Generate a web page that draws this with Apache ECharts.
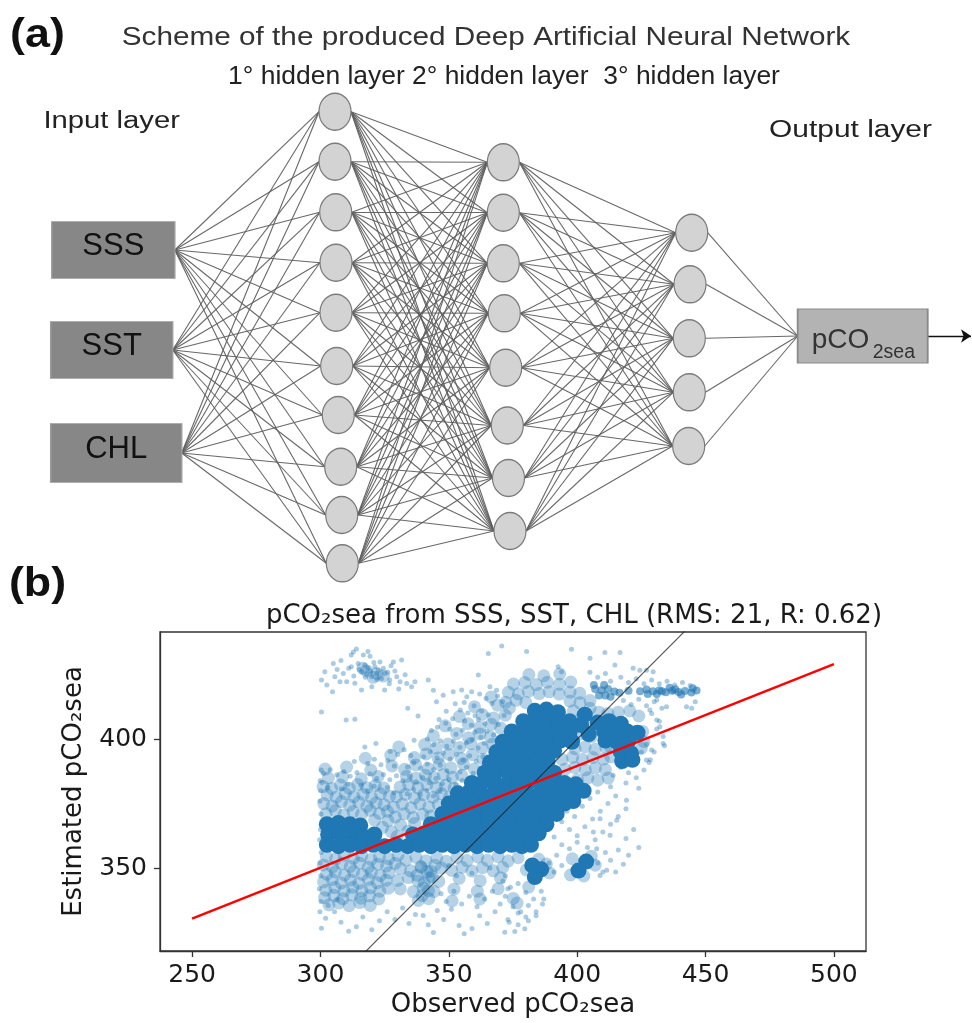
<!DOCTYPE html>
<html>
<head>
<meta charset="utf-8">
<title>Deep ANN scheme and pCO2sea scatter</title>
<script src="https://cdn.jsdelivr.net/npm/echarts@6.0.0/dist/echarts.min.js"></script>
<style>
  html, body { margin: 0; padding: 0; background: #fff; }
  #chart { width: 972px; height: 1023px; }
</style>
</head>
<body>
<div id="chart"></div>
<script>
// ---- panel (a): network structure ----
const inputNames = ['SSS', 'SST', 'CHL'];
const hiddenSizes = [10, 8, 5];
const hiddenTitles = '1° hidden layer 2° hidden layer  3° hidden layer';

// ---- panel (b): axis ticks and fitted lines ----
const xTicks = [250, 300, 350, 400, 450, 500];
const yTicks = [350, 400];
const regressionLine = [[250, 330.4], [500, 429.1]];
const identityLine = [[300, 300], [460, 460]];

// saturated parts of the point cloud (observed, estimated)
const denseCore = [
  [383.5, 411], [388, 411.5], [392.5, 410.5],
  [379, 407], [383.5, 407.5], [388, 407], [392.5, 406.5], [397, 407], [408, 406.5], [412.5, 407], [417, 406],
  [374.5, 403], [379, 403.5], [383.5, 403], [388, 402.5], [392.5, 403], [397, 402.5], [410.5, 403], [415, 403.5], [419.5, 403], [423.5, 402.5],
  [401.5, 405.5], [404.5, 402], [403, 409.5],
  [371, 399], [375.5, 399.5], [380, 399], [384.5, 398.5], [389, 399], [393.5, 399.5], [398, 399], [411, 399.5], [415.5, 399], [420, 399.5],
  [368.5, 395], [373, 395.5], [377.5, 395], [382, 394.5], [386.5, 395], [391, 395.5], [417, 395], [421, 394.5],
  [366, 391], [370.5, 391.5], [375, 391], [379.5, 390.5], [384, 391], [388.5, 391.5], [417.5, 391.5], [421.5, 392],
  [364, 387], [368.5, 387.5], [373, 387], [377.5, 386.5], [382, 387], [386.5, 387.5], [391, 387],
  [359, 383], [363.5, 383.5], [368, 383], [372.5, 382.5], [377, 383], [381.5, 383.5], [386, 383], [390.5, 382.5], [395, 383], [399.5, 382.5],
  [353.5, 379], [358, 379.5], [362.5, 379], [367, 378.5], [371.5, 379], [376, 379.5], [380.5, 379], [385, 378.5], [389.5, 379],
  [394, 379.5], [398.5, 379], [402.5, 380],
  [350, 375], [354.5, 375.5], [359, 375], [363.5, 374.5], [368, 375], [372.5, 375.5], [377, 375], [381.5, 374.5], [386, 375],
  [390.5, 375.5], [395, 375], [398.5, 376],
  [347.5, 371], [352, 371.5], [356.5, 371], [361, 370.5], [365.5, 371], [370, 371.5], [374.5, 371], [379, 370.5], [383.5, 371],
  [388, 371.5], [392, 371],
  [302.5, 367], [307, 367.5], [311.5, 367], [315.5, 366.5], [343, 367], [347.5, 367.5], [352, 367], [356.5, 366.5], [361, 367],
  [365.5, 367.5], [370, 367], [374.5, 366.5], [379, 367], [383.5, 367.5], [388, 367],
  [303, 363], [307.5, 363.5], [312, 363], [316.5, 362.5], [321, 363], [336, 363], [340.5, 363.5], [345, 363], [349.5, 362.5],
  [354, 363], [358.5, 363.5], [363, 363], [367.5, 362.5], [372, 363], [376.5, 363.5], [381, 363], [385, 363.5],
  [302.5, 359], [307, 358.5], [311.5, 359], [316, 358.5], [320.5, 359], [325, 358.5], [329.5, 359], [334, 358.5], [338.5, 359],
  [343, 358.5], [347.5, 359], [352, 358.5], [356.5, 359], [361, 358.5], [365.5, 359], [370, 358.5], [374.5, 359], [378.5, 358.5], [382, 359],
  [382.5, 351], [386, 349.5], [383.5, 346.5], [400.5, 349], [403.5, 352.5]
];

// thin horizontal streak near 418
const streakPts = [
  [406.5, 421], [407, 419.5], [409.5, 419], [410.5, 421], [411, 417], [412, 419.5], [414.5, 418.5], [416.5, 418], [408.5, 417], [413, 416.5],
  [420, 418.8], [424.5, 418.6], [427, 419.3], [427.5, 417.5], [429.5, 418.6], [431, 417.5], [432, 419], [434.5, 418.2], [436, 420],
  [437, 418.8], [439.5, 418.3], [440.5, 417.3], [442, 418.7], [444.5, 418.1], [445, 419.8], [446.5, 418.9], [433, 418.6], [438.2, 419.4]
];

// medium density patches
const midPts = [
  // left block above the band
  [302.2, 371.1], [305.8, 372.3], [309.1, 370.6], [312.7, 371.9], [316.0, 370.8], [319.4, 372.4], [322.9, 371.2], [326.1, 372.0],
  [301.3, 375.0], [304.6, 374.1], [308.2, 375.8], [311.4, 374.4], [314.9, 375.6], [318.1, 374.0], [321.7, 375.3], [324.8, 374.6],
  [302.6, 378.4], [306.1, 377.5], [309.7, 378.9], [313.0, 377.7], [316.6, 378.6], [319.9, 377.3], [323.4, 378.8], [326.9, 377.9],
  [301.0, 381.6], [304.3, 380.9], [307.8, 382.2], [311.2, 381.0], [314.5, 382.4], [318.0, 381.2], [321.3, 382.0], [324.7, 381.1],
  [303.1, 384.9], [308.6, 385.3], [315.9, 384.6], [322.4, 385.5],
  // block between the band and the core
  [329.2, 369.8], [332.6, 371.1], [336.1, 369.6], [339.8, 370.9], [343.0, 370.2],
  [328.4, 373.6], [331.9, 374.8], [335.3, 373.4], [338.7, 374.9], [342.2, 373.7], [345.9, 374.6],
  [329.6, 377.7], [333.1, 378.6], [336.6, 377.2], [340.2, 378.4], [343.8, 377.5], [347.1, 378.9], [350.3, 377.6],
  [331.0, 381.4], [334.4, 382.3], [338.0, 381.1], [341.5, 382.5], [345.1, 381.3], [348.6, 382.1], [352.1, 381.0],
  [333.5, 385.6], [337.2, 384.8], [340.9, 386.0], [344.3, 385.0], [347.8, 386.2], [351.4, 385.2], [355.0, 386.0],
  // upper-left slope
  [301.8, 388.4], [310.2, 389.2], [319.6, 388.0], [327.9, 389.6], [332.8, 388.3], [337.1, 390.0], [341.9, 388.6], [346.3, 390.2],
  [350.8, 388.9], [355.7, 390.4], [359.9, 388.4],
  [317.5, 392.6], [327.4, 393.8], [336.6, 392.9], [341.2, 394.3], [345.8, 392.7], [350.1, 394.1], [354.9, 392.5], [359.2, 394.0], [363.4, 392.2],
  [330.5, 397.0], [340.6, 397.9], [345.1, 396.5], [349.7, 398.1], [354.2, 396.8], [358.6, 398.3], [363.1, 396.6], [367.0, 398.0],
  [344.0, 401.3], [353.1, 402.2], [357.7, 400.6], [362.1, 402.0], [366.2, 400.9],
  [348.6, 405.2], [357.5, 406.0], [362.0, 404.6], [366.6, 405.8], [370.2, 404.3],
  [354.1, 408.8], [363.0, 409.6], [367.5, 408.2], [372.0, 409.3],
  [360.0, 412.6], [369.0, 413.2], [373.6, 412.0], [366.5, 416.4],
  // between band parts
  [324.2, 365.8], [327.6, 364.1], [331.2, 366.7], [334.1, 364.3], [329.8, 362.2], [336.7, 367.3], [321.1, 368.6], [326.3, 368.4],
  // left block below the band
  [302.3, 354.6], [305.9, 353.5], [309.2, 355.0], [312.8, 353.7], [316.1, 354.8], [319.7, 353.3], [323.0, 354.5], [326.6, 353.6], [330.2, 354.9],
  [301.1, 351.2], [304.7, 350.4], [308.3, 351.7], [311.6, 350.6], [315.2, 351.9], [318.6, 350.3], [322.3, 351.5], [325.7, 350.8], [329.1, 351.8],
  [302.4, 347.6], [305.8, 348.5], [309.4, 347.3], [312.9, 348.7], [316.3, 347.5], [319.8, 348.4], [323.3, 347.1], [326.7, 348.2],
  [301.2, 344.6], [304.6, 345.5], [308.1, 344.2], [311.7, 345.4], [315.0, 344.1], [318.7, 345.6], [322.1, 344.3], [325.6, 345.3],
  [302.1, 341.4], [305.6, 342.4], [309.2, 341.1], [312.6, 342.5], [316.2, 341.2], [319.5, 342.3], [323.1, 341.0], [326.4, 342.2],
  [301.6, 338.5], [305.2, 339.4], [308.7, 338.1], [312.2, 339.6], [315.7, 338.3], [319.1, 339.2], [322.7, 338.0],
  [303.3, 335.7], [307.1, 336.4], [311.2, 335.4], [315.3, 336.6], [319.4, 335.5],
  // middle block below the band
  [333.3, 353.1], [337.2, 354.2], [341.1, 352.8], [345.3, 354.0], [349.0, 352.6], [353.2, 354.1], [357.1, 352.9], [361.3, 354.3],
  [365.0, 353.0], [369.2, 354.4], [373.1, 352.7], [377.0, 354.0],
  [331.2, 349.8], [335.1, 348.9], [339.3, 350.2], [343.0, 348.7], [347.2, 350.0], [351.1, 349.1], [355.2, 350.3], [359.0, 348.8],
  [363.1, 350.1], [367.3, 348.9], [371.0, 350.2],
  [330.1, 345.2], [334.2, 346.3], [338.0, 345.0], [342.3, 346.1], [346.1, 344.8], [354.0, 346.0], [362.2, 345.1], [370.1, 346.2],
  [331.1, 341.9], [336.2, 340.8], [340.0, 342.1], [344.3, 340.9], [352.0, 341.8], [361.1, 341.0], [369.2, 342.0],
  [338.1, 337.4], [342.2, 338.1], [351.3, 337.2], [362.1, 338.0],
  [337.6, 347.2], [340.4, 344.1], [343.6, 346.7], [339.1, 350.6], [342.1, 341.2], [344.6, 351.1], [339.6, 339.3], [341.5, 348.6],
  [375.1, 338.2], [376.6, 336.4], [381.1, 342.6], [389.2, 348.1], [385.0, 353.4], [398.1, 353.6], [407.0, 351.1], [405.5, 354.6],
  [380.2, 349.3], [388.0, 351.6], [397.4, 347.3], [402.6, 346.9],
  // right of the core, below the fit
  [399.2, 396.3], [403.1, 397.0], [407.0, 396.1], [411.2, 396.8],
  [394.1, 392.2], [398.2, 393.0], [402.0, 392.1], [406.1, 392.9], [410.2, 392.3], [413.1, 393.1],
  [395.2, 388.3], [399.1, 389.0], [403.2, 388.1], [407.1, 388.9], [411.0, 388.2],
  [400.1, 384.3], [404.2, 385.0], [408.0, 384.1], [412.1, 384.9],
  // above the core
  [372.1, 414.3], [376.2, 415.1], [380.0, 414.2], [397.2, 414.8], [401.1, 414.1], [405.0, 415.0],
  [373.2, 418.2], [377.1, 417.6], [381.0, 418.5], [385.2, 417.7], [389.1, 418.4], [393.0, 417.5], [397.2, 418.3], [401.0, 417.8],
  [375.2, 421.4], [379.6, 422.0], [384.1, 421.2], [388.4, 422.1], [393.1, 421.3], [397.5, 422.2],
  [381.2, 425.1], [387.0, 424.6], [393.2, 425.3],
  // right region
  [398.5, 411], [402, 409], [405, 412], [403, 405], [405.5, 401], [401, 402], [425.5, 403], [426, 399], [424, 409],
  [420.5, 411], [416, 410.5], [412, 410], [408.5, 410.5], [425, 396.5], [413, 397],
  // core of the top-left group
  [318, 426.5], [322, 425.5], [320.5, 424], [316.5, 427.5], [324.5, 424.5]
];

// sparse individual points
const dotPts = [
  // top-left group
  [300.4, 423], [301.7, 426.2], [305, 429.4], [305.6, 424.2], [304.7, 418.4], [307.6, 422.3], [308.9, 425.5], [312, 432.7], [312.8, 433.8],
  [312, 428.1], [310.2, 422.3], [313.4, 421.7], [316.7, 432.7], [319.3, 432.2], [316, 426.2], [318, 425.5], [320, 424.2], [321.9, 425.5],
  [323.8, 423.6], [325, 425.5], [327, 423], [328.4, 430], [329.7, 424.2], [331, 422.3], [331.6, 430.7], [333.6, 421.6], [336.8, 422.3],
  [335.5, 420.4], [320, 420.4], [325, 419.1], [316, 419.1], [323.2, 430], [314.7, 429.4], [321.2, 428.1], [318.6, 427.5], [317.3, 428.8],
  [319.5, 426.5], [322.5, 426.8], [324.5, 427.5], [326.2, 426], [317.5, 424], [315.2, 427], [322, 423.2], [326.8, 421.5], [329, 426.5],
  [313, 424.5], [311, 427.5], [302.5, 421], [306.5, 427], [330.5, 419.5], [333, 425], [314, 435], [318.5, 434], [308, 430.5],
  [320.8, 429.8], [327.5, 428.5],
  // isolated points at the top
  [300.4, 410.6], [310, 407.4], [313.4, 407.7], [317.3, 397], [321.6, 398.3], [342, 423], [344, 419], [345.2, 414.5], [347.8, 417.1],
  [351.7, 418.4], [355, 419.1], [358.9, 418.4], [361.5, 424.9], [365.4, 433.3], [370.6, 436.2], [366, 420.4], [368.6, 419],
  [380.3, 434], [397.8, 434.9], [405, 431.4], [410.8, 433.6], [416.7, 433.6], [414.7, 428.8], [392.6, 428.1], [393.9, 426.2],
  [421.8, 427.5], [424.4, 426.8], [427, 426.8], [429.6, 426.2], [334, 412], [338, 409],
  // upper-left slope of the cloud
  [357, 416.5], [362, 417.5], [364.5, 415.8], [369, 416.8], [371, 414.6], [352.5, 413.8], [356, 414.2], [359.8, 413], [366.8, 413.9],
  [349, 410.8], [354.5, 411.3], [357.4, 410.2], [360.2, 409.1], [362.8, 410.9], [365.4, 409.5], [371.5, 409.2],
  [346.2, 407.6], [348.8, 406.2], [351.5, 407.9], [356.2, 407.1], [358.8, 405.4], [361.5, 407.6], [364.1, 406.1], [369.3, 405.7],
  [343.2, 403.4], [345.6, 404.6], [350.4, 403.9], [352.8, 401.9], [355.3, 403.5], [360.1, 402.8], [362.5, 400.8], [364.9, 403.1],
  [367.4, 401.6], [359, 399.8], [336.5, 399.6], [341.6, 400.1], [344.1, 397.8], [346.7, 399.4], [349.2, 397.3], [351.8, 399.2],
  [354.3, 396.9], [356.9, 398.6], [361.4, 396.6], [363.8, 398.4], [368.5, 397.2],
  [327.2, 395.2], [330.1, 394.1], [332.6, 395.9], [335.2, 393.7], [340.2, 393.2], [342.8, 395.1], [345.4, 392.8], [347.9, 394.6],
  [350.5, 392.3], [353, 394.2], [355.6, 391.9], [358.1, 393.6], [360.7, 391.4], [363.3, 393.2], [365.8, 391.1],
  [313.2, 391.3], [318.4, 390.6], [321, 392.2], [323.6, 390.1], [326.2, 391.7], [328.8, 389.6], [333.9, 389.2], [336.4, 390.8],
  [339, 388.7], [341.6, 390.4], [344.1, 388.2], [346.7, 389.9], [349.2, 387.8], [354.4, 387.3], [356.9, 389.1], [359.5, 386.8], [362, 388.6],
  [301.2, 386.8], [303.8, 388.1], [306.4, 386.2], [309.1, 387.5], [311.6, 385.6], [314.2, 387.1], [319.3, 386.6], [321.9, 384.7],
  [324.5, 386.3], [327, 384.3], [329.6, 385.8], [332.1, 383.9], [334.7, 385.5], [337.3, 383.5], [339.8, 385.1], [342.4, 383.1],
  [345, 384.7], [347.5, 382.7], [350.1, 384.4], [352.7, 382.3], [355.2, 384],
  [300.6, 383.2], [302.9, 381.3], [308.1, 380.8], [310.7, 382.5], [315.8, 382.1], [318.4, 380], [320.9, 381.7], [326.1, 381.3],
  [328.6, 379.2], [333.8, 378.8], [336.3, 380.5], [338.9, 378.4], [341.5, 380.1], [344, 378], [346.6, 379.7],
  // left edge at 300
  [299.8, 333], [300.2, 337], [299.6, 342], [300.1, 347], [299.9, 352], [300.3, 356], [299.7, 361], [300, 365], [300.2, 371],
  [299.8, 376], [300.1, 380], [299.9, 384], [300.3, 388],
  // bottom fringe
  [300.4, 326.6], [302, 330.5], [305.5, 333], [308, 329], [311, 325.5], [314, 327.2], [316.5, 331], [320, 326], [323, 329.5],
  [326, 333], [329, 330], [332, 334.5], [334.5, 328.5], [337, 332], [340, 331.6], [342, 328], [344, 325], [345.5, 333.5], [348, 330],
  [351, 334], [354, 327.7], [356, 324.5], [359, 326.5], [362, 331.5], [365, 328.5], [368, 333], [371.8, 325.1], [375.7, 325.4],
  [379.6, 326.4], [373, 330], [377, 332.5], [381, 329.5], [384, 333], [386.5, 336], [303, 335.5], [306.5, 337.5],
  // lower middle
  [349, 337], [352, 341], [355, 336], [358, 339], [361, 335], [364, 338], [367, 341], [370, 336], [373, 342], [372, 347],
  [366, 350], [359, 348], [353, 347], [350, 351], [347, 340],
  [371, 345], [374, 342.5], [377, 344], [380, 340.5], [383, 338], [386, 341], [372, 339], [375, 335], [378, 333], [381, 335.5],
  [384, 331.5], [373.5, 329], [377, 328], [380, 331], [387, 338],
  // lower right of the core
  [390, 378], [393, 375.5], [396, 372], [399, 370], [402, 374], [405, 377], [408, 379.5], [394, 368], [397, 365], [400, 362.5],
  [403, 366], [406, 369], [409, 372], [412, 375], [415, 378], [391, 362], [394, 359], [397, 357.5], [400, 360], [404, 358],
  [407, 361], [410, 364], [413, 367], [416, 370], [419, 373], [411, 356], [408, 352], [410, 348.5], [413, 353], [416, 357],
  [419, 361.5], [422, 365], [420, 355], [424, 358], [415, 348.5], [418, 351.5], [392, 355], [389, 352], [391, 348.5], [394, 351],
  [412.8, 362.7], [415.4, 368.5], [419.2, 376.3], [408.9, 369.1], [411.5, 349.1], [408.9, 347.1], [407.6, 357.5], [406.3, 364],
  [414, 386], [417, 389], [420, 387], [423, 385], [426, 388], [419, 383], [424, 381], [413, 381.5], [428, 391], [425, 395], [427, 398],
  [427, 391.9], [429, 395.8], [433.5, 398.3], [432.2, 404.8], [431, 407.4], [428.3, 411.3],
  // upper right fringe
  [405, 426], [408, 424], [411, 425.5], [413, 422.5], [417, 424], [420, 422], [423, 423.5], [426, 421.5], [429, 423], [432, 421.5],
  [435, 422.5], [438, 421], [441, 422], [444, 420.8], [418, 415], [421, 413.5], [424, 415.5], [427, 413], [430, 414.5], [433, 412],
  [429, 410], [432, 407], [431, 404], [433.5, 401], [434, 397.5], [430, 395], [428.5, 392], [431, 415.2], [434.8, 412.6],
  [437.4, 418.4], [442.6, 412.6], [444.6, 412], [446, 414.5]
];

const FONT_A = '"Liberation Sans", Arial, sans-serif';
const FONT_B = '"DejaVu Sans", sans-serif';
const BLUE = '#1f77b4';

// ---- layout of the scheme, in page pixels ----
const inputLayout = { x: [113.3, 111.7, 116.2], y: [250, 350, 453], w: [123, 122, 131], h: [57, 57, 59] };
const hiddenLayout = [
  { x: [335, 335, 335.7, 336, 336, 336.7, 338.3, 340.7, 341.7, 342.3], y: [111.7, 161.7, 212.3, 262.7, 312.7, 366, 415, 466.7, 515, 563.3] },
  { x: [503.3, 503.3, 503.3, 504.3, 505.7, 507.3, 508.5, 510], y: [162.3, 212.7, 263.3, 313.3, 367.7, 425.5, 478, 531] },
  { x: [691.7, 690, 689.3, 689.3, 688.7], y: [232.7, 284.3, 338.3, 392.3, 446] }
];
const nodeW = 32, nodeH = 37;
const outputLayout = { x: 862.7, y: 336, w: 130, h: 54 };
const ELLIPSE = 'path://M0,50A50,50 0 1 1 100,50A50,50 0 1 1 0,50Z';

const nodes = [];
const links = [];
function addNode(n) { n.name = 'n' + nodes.length; nodes.push(n); return nodes.length - 1; }
function anchor(x, y) { return addNode({ value: [x, y], symbolSize: 0, label: { show: false } }); }

// inputs
let prevRight = [];
inputNames.forEach((nm, i) => {
  const L = inputLayout;
  addNode({
    value: [L.x[i], L.y[i]], symbol: 'rect', symbolSize: [L.w[i], L.h[i]],
    itemStyle: { color: '#878787', borderColor: '#9c9c9c', borderWidth: 1 },
    label: { show: true, position: 'inside', formatter: nm, fontFamily: FONT_A, fontSize: 31, color: '#111', offset: [0, -4] }
  });
  prevRight.push(anchor(L.x[i] + L.w[i] / 2, L.y[i]));
});

// hidden layers, fully connected to the previous layer
hiddenSizes.forEach((count, li) => {
  const L = hiddenLayout[li];
  const rights = [];
  for (let k = 0; k < count; k++) {
    addNode({
      value: [L.x[k], L.y[k]], symbol: ELLIPSE, symbolSize: [nodeW, nodeH],
      itemStyle: { color: '#d3d3d3', borderColor: '#7b7b7b', borderWidth: 1.3 },
      label: { show: false }
    });
    const left = anchor(L.x[k] - nodeW / 2, L.y[k]);
    prevRight.forEach(s => links.push({ source: s, target: left }));
    rights.push(anchor(L.x[k] + nodeW / 2, L.y[k]));
  }
  prevRight = rights;
});

// output
const O = outputLayout;
addNode({
  value: [O.x, O.y], symbol: 'rect', symbolSize: [O.w, O.h],
  itemStyle: { color: '#b3b3b3', borderColor: '#8a8a8a', borderWidth: 1.2 },
  label: { show: false }
});
const outLeft = anchor(O.x - O.w / 2, O.y);
prevRight.forEach(s => links.push({ source: s, target: outLeft }));
const outRight = anchor(O.x + O.w / 2, O.y);
const arrowEnd = anchor(971, O.y);
links.push({
  source: outRight, target: arrowEnd, symbol: ['none', 'arrow'], symbolSize: [0, 10],
  lineStyle: { color: '#111', width: 1.4, opacity: 1 }
});

const chart = echarts.init(document.getElementById('chart'), null, { renderer: 'canvas' });

const axisStyle = { color: '#333', width: 1.3 };

const option = {
  animation: false,
  backgroundColor: '#fff',
  grid: [
    { left: 0, right: 0, top: 0, bottom: 0, show: false },
    { left: 160, right: 106, top: 632, bottom: 72, show: true, borderColor: '#333', borderWidth: 1.3 }
  ],
  xAxis: [
    { gridIndex: 0, type: 'value', min: 0, max: 972, show: false },
    {
      gridIndex: 1, type: 'value', min: 237.5, max: 512.5,
      axisLine: { show: true, onZero: false, lineStyle: axisStyle },
      axisTick: { show: true, length: 6, customValues: xTicks, lineStyle: axisStyle },
      axisLabel: { customValues: xTicks, fontFamily: FONT_B, fontSize: 25, color: '#1a1a1a', margin: 12 },
      splitLine: { show: false },
      name: 'Observed pCO₂sea', nameLocation: 'middle', nameGap: 41,
      nameTextStyle: { fontFamily: FONT_B, fontSize: 26, color: '#1a1a1a' }
    }
  ],
  yAxis: [
    { gridIndex: 0, type: 'value', min: 0, max: 1023, inverse: true, show: false },
    {
      gridIndex: 1, type: 'value', min: 317.8, max: 441.6,
      axisLine: { show: true, onZero: false, lineStyle: axisStyle },
      axisTick: { show: true, length: 6, customValues: yTicks, lineStyle: axisStyle },
      axisLabel: { customValues: yTicks, fontFamily: FONT_B, fontSize: 25, color: '#1a1a1a', margin: 13 },
      splitLine: { show: false },
      name: 'Estimated pCO₂sea', nameLocation: 'middle', nameGap: 73,
      nameTextStyle: { fontFamily: FONT_B, fontSize: 26, color: '#1a1a1a' }
    }
  ],
  series: [
    {
      type: 'graph', coordinateSystem: 'cartesian2d', xAxisIndex: 0, yAxisIndex: 0,
      silent: true, data: nodes, links: links,
      lineStyle: { color: '#606060', width: 1.1, opacity: 0.95, curveness: 0 },
      emphasis: { disabled: true }
    },
    {
      name: 'mid', type: 'scatter', xAxisIndex: 1, yAxisIndex: 1, silent: true,
      symbolSize: 13, data: midPts, itemStyle: { color: BLUE, opacity: 0.33 }
    },
    {
      name: 'dots', type: 'scatter', xAxisIndex: 1, yAxisIndex: 1, silent: true,
      symbolSize: 5, data: dotPts, itemStyle: { color: BLUE, opacity: 0.38 }
    },
    {
      name: 'streak', type: 'scatter', xAxisIndex: 1, yAxisIndex: 1, silent: true,
      symbolSize: 8, data: streakPts, itemStyle: { color: BLUE, opacity: 0.6 }
    },
    {
      name: 'dense', type: 'scatter', xAxisIndex: 1, yAxisIndex: 1, silent: true,
      symbolSize: 16, data: denseCore, itemStyle: { color: BLUE, opacity: 1 }
    },
    {
      name: '1:1', type: 'line', xAxisIndex: 1, yAxisIndex: 1, silent: true, clip: true,
      symbol: 'none', data: identityLine, lineStyle: { color: '#222', width: 1.1, opacity: 0.8 }, z: 5
    },
    {
      name: 'fit', type: 'line', xAxisIndex: 1, yAxisIndex: 1, silent: true, clip: true,
      symbol: 'none', data: regressionLine, lineStyle: { color: '#ff0000', width: 2.4 }, z: 6
    }
  ],
  graphic: [
    { type: 'text', x: 37.5, y: 36, scaleX: 1.12, style: { text: '(a)', fontFamily: FONT_A, fontWeight: 'bold', fontSize: 40, fill: '#111', textAlign: 'center', textVerticalAlign: 'middle' } },
    { type: 'text', x: 486, y: 37.5, scaleX: 1.143, style: { text: 'Scheme of the produced Deep Artificial Neural Network', fontFamily: FONT_A, fontSize: 26, fill: '#333', textAlign: 'center', textVerticalAlign: 'middle' } },
    { type: 'text', x: 504, y: 77, scaleX: 1.057, style: { text: hiddenTitles, fontFamily: FONT_A, fontSize: 25, fill: '#222', textAlign: 'center', textVerticalAlign: 'middle' } },
    { type: 'text', x: 111.7, y: 122, scaleX: 1.256, style: { text: 'Input layer', fontFamily: FONT_A, fontSize: 23.3, fill: '#222', textAlign: 'center', textVerticalAlign: 'middle' } },
    { type: 'text', x: 850.5, y: 131, scaleX: 1.284, style: { text: 'Output layer', fontFamily: FONT_A, fontSize: 23.3, fill: '#222', textAlign: 'center', textVerticalAlign: 'middle' } },
    { type: 'text', x: 811.7, y: 340, z: 10, style: { text: 'pCO', fontFamily: FONT_A, fontSize: 28, fill: '#333', textAlign: 'left', textVerticalAlign: 'middle' } },
    { type: 'text', x: 872.7, y: 353, z: 10, style: { text: '2sea', fontFamily: FONT_A, fontSize: 19.5, fill: '#333', textAlign: 'left', textVerticalAlign: 'middle' } },
    { type: 'text', x: 37.5, y: 585, scaleX: 1.12, style: { text: '(b)', fontFamily: FONT_A, fontWeight: 'bold', fontSize: 40, fill: '#111', textAlign: 'center', textVerticalAlign: 'middle' } },
    { type: 'text', x: 574, y: 616, style: { text: 'pCO₂sea from SSS, SST, CHL (RMS: 21, R: 0.62)', fontFamily: FONT_B, fontSize: 26, fill: '#1a1a1a', textAlign: 'center', textVerticalAlign: 'middle' } }
  ]
};

chart.setOption(option);
</script>
</body>
</html>
